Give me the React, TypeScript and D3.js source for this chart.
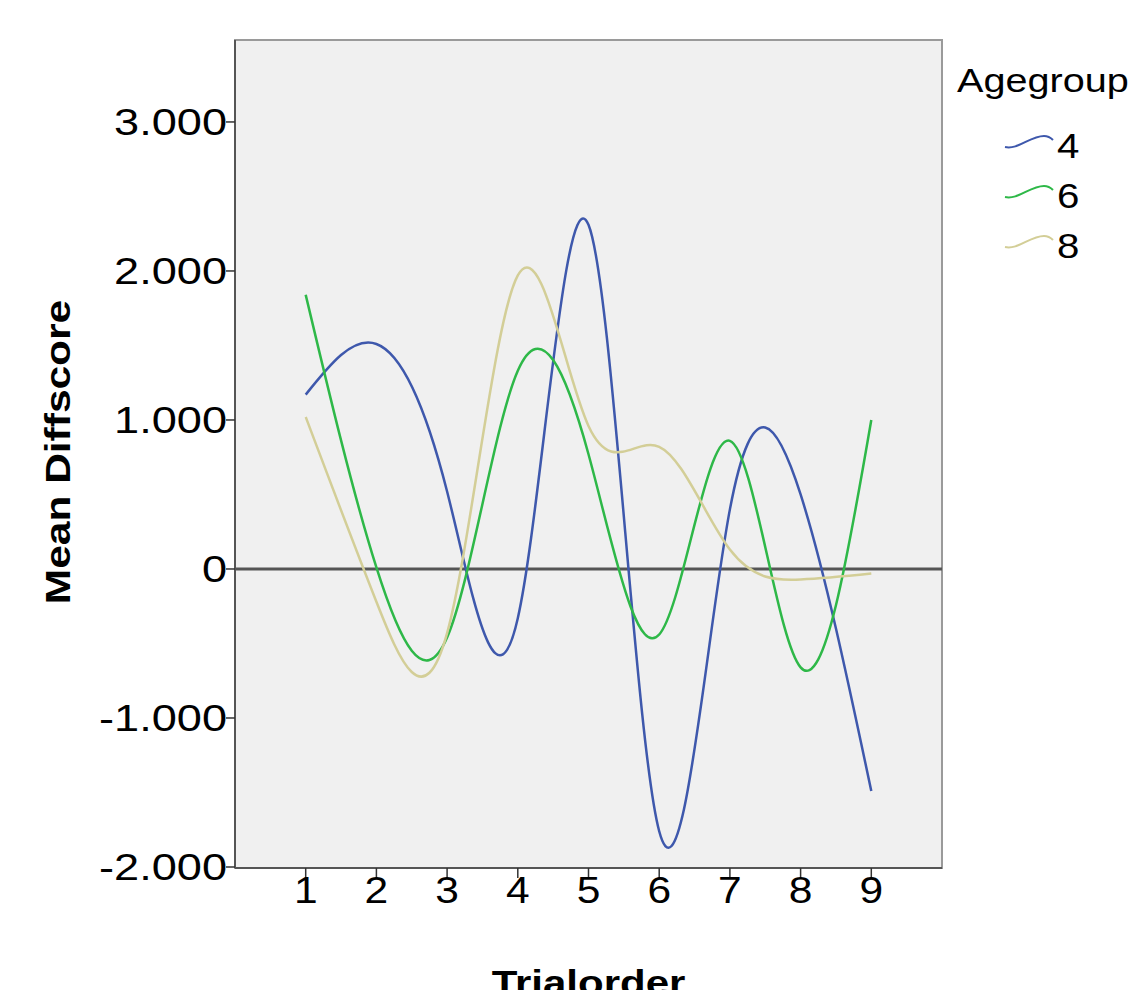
import React from "react";
import * as d3 from "d3";

const trials = [1, 2, 3, 4, 5, 6, 7, 8, 9];
const groups = ["4", "6", "8"];
const age4 = [1.17, 1.51, 0.52, -0.33, 2.31, -1.76, 0.4, 0.5, -1.49];
const age6 = [1.84, 0.01, -0.46, 1.33, 0.77, -0.44, 0.86, -0.66, 1.0];
const age8 = [1.02, -0.22, -0.43, 1.97, 0.96, 0.82, 0.13, -0.07, -0.03];
const yTicks = [-2, -1, 0, 1, 2, 3];
const colors = ["#3E58AC", "#2EB848", "#D3CE97"];

const W = 1138;
const H = 990;
const FONT = "'Liberation Sans', Arial, sans-serif";

function SText({ x, y, sx = 1.25, anchor = "start", size = 35, weight = "normal", rotate = 0, children }: any) {
  return (
    <text
      transform={`translate(${x},${y}) rotate(${rotate}) scale(${sx},1)`}
      textAnchor={anchor}
      fontFamily={FONT}
      fontSize={size}
      fontWeight={weight}
      fill="#000"
    >
      {children}
    </text>
  );
}

const fmt = (t: number) => (t === 0 ? "0" : (t < 0 ? "-" : "") + Math.abs(t).toFixed(3));

export default function App() {
  const x = d3.scaleLinear().domain([0, 10]).range([235, 942]);
  const y = d3.scaleLinear().domain([-2, 3.55]).range([867, 40]);
  const series = [age4, age6, age8];
  const line = d3
    .line<number>()
    .x((_, i) => x(trials[i]))
    .y((d) => y(d))
    .curve(d3.curveNatural);

  const [x0, x1] = x.range();
  const [yb, yt] = y.range();

  return (
    <svg width={W} height={H} style={{ position: "absolute", left: 0, top: 0, display: "block" }}>
      <rect x={0} y={0} width={W} height={H} fill="#fff" />
      <rect x={x0} y={yt} width={x1 - x0} height={yb + 1 - yt} fill="#F0F0F0" stroke="#9a9a9a" strokeWidth={2} />
      {/* zero reference line */}
      <line x1={x0} x2={x1} y1={y(0)} y2={y(0)} stroke="#555" strokeWidth={3} />
      {series.map((s, i) => (
        <path key={i} d={line(s) || ""} fill="none" stroke={colors[i]} strokeWidth={2.5} />
      ))}
      {/* y axis */}
      <line x1={x0} x2={x0} y1={yt} y2={yb + 1} stroke="#555" strokeWidth={2} />
      {yTicks.map((t) => (
        <g key={t}>
          <line x1={x0 - 9} x2={x0} y1={y(t)} y2={y(t)} stroke="#333" strokeWidth={1.5} />
          <SText x={x0 - 8} y={y(t) + 13} anchor="end" sx={1.22} size={37}>
            {fmt(t)}
          </SText>
        </g>
      ))}
      {/* x axis */}
      <line x1={x0} x2={x1} y1={yb + 1} y2={yb + 1} stroke="#555" strokeWidth={2} />
      {trials.map((t) => (
        <g key={t}>
          <line x1={x(t)} x2={x(t)} y1={yb + 1} y2={yb + 11} stroke="#333" strokeWidth={1.5} />
          <SText x={x(t)} y={y(-2) + 36} anchor="middle" sx={1.15} size={37}>
            {t}
          </SText>
        </g>
      ))}
      <SText x={(x0 + x1) / 2} y={995} anchor="middle" weight="bold" sx={1.2}>
        Trialorder
      </SText>
      <SText x={70} y={452} anchor="middle" weight="bold" rotate={-90} sx={1.18} size={36}>
        Mean Diffscore
      </SText>
      {/* legend */}
      <SText x={957} y={92} sx={1.2} size={33}>
        Agegroup
      </SText>
      {groups.map((g, i) => {
        const cy = 141 + i * 50;
        return (
          <g key={g}>
            <path
              d={`M1005,${cy + 6} C1018,${cy + 9} 1030,${cy - 5} 1044,${cy - 5} C1049,${cy - 5} 1051,${cy - 3} 1053,${cy - 1}`}
              fill="none"
              stroke={colors[i]}
              strokeWidth={2}
            />
            <SText x={1057} y={cy + 17} sx={1.15} size={35}>
              {g}
            </SText>
          </g>
        );
      })}
    </svg>
  );
}
